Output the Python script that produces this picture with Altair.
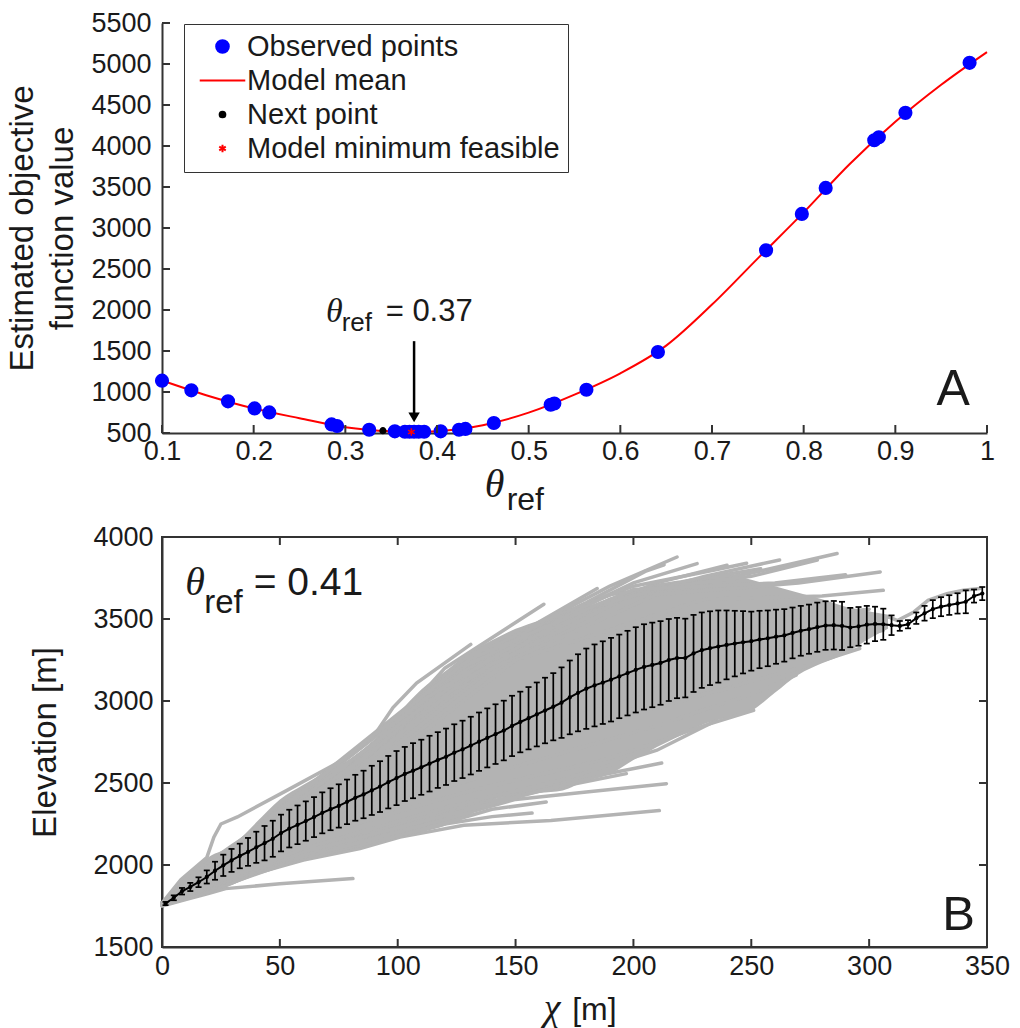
import altair as alt
import pandas as pd

# ---------------- Panel A data ----------------
obs_theta = [0.100, 0.132, 0.172, 0.201, 0.217, 0.285, 0.291, 0.326, 0.354, 0.365,
             0.370, 0.375, 0.380, 0.386, 0.404, 0.424, 0.431, 0.462, 0.524, 0.528,
             0.563, 0.641, 0.759, 0.798, 0.824, 0.877, 0.882, 0.911, 0.981]
obs_value = [1138, 1020, 886, 800, 751, 605, 585, 540, 520, 515,
             515, 515, 515, 515, 520, 540, 550, 622, 845, 860,
             1028, 1488, 2728, 3172, 3489, 4070, 4106, 4404, 5014]
next_theta = [0.341]
next_value = [528]
minf_theta = [0.372]
minf_value = [513]
mean_theta = [0.10, 0.15, 0.20, 0.25, 0.30, 0.35, 0.375, 0.40, 0.45, 0.50, 0.55, 0.60,
              0.65, 0.70, 0.75, 0.80, 0.85, 0.90, 0.95, 1.00]
mean_value = [1140, 955, 800, 680, 570, 520, 513, 522, 595, 748, 968, 1228,
              1565, 2066, 2630, 3190, 3778, 4295, 4746, 5145]
a_xticks = [0.1, 0.2, 0.3, 0.4, 0.5, 0.6, 0.7, 0.8, 0.9, 1.0]
a_yticks = [500, 1000, 1500, 2000, 2500, 3000, 3500, 4000, 4500, 5000, 5500]
series_names = ["Observed points", "Model mean", "Next point", "Model minimum feasible"]

# ---------------- Panel B data ----------------
chi = [1.5, 5.0, 8.5, 12.0, 15.5, 19.0, 22.5, 26.0, 29.5, 33.0,
       36.5, 40.0, 43.5, 47.0, 50.5, 54.0, 57.5, 61.0, 64.5, 68.0,
       71.5, 75.0, 78.5, 82.0, 85.5, 89.0, 92.5, 96.0, 99.5, 103.0,
       106.5, 110.0, 113.5, 117.0, 120.5, 124.0, 127.5, 131.0, 134.5, 138.0,
       141.5, 145.0, 148.5, 152.0, 155.5, 159.0, 162.5, 166.0, 169.5, 173.0,
       176.5, 180.0, 183.5, 187.0, 190.5, 194.0, 197.5, 201.0, 204.5, 208.0,
       211.5, 215.0, 218.5, 222.0, 225.5, 229.0, 232.5, 236.0, 239.5, 243.0,
       246.5, 250.0, 253.5, 257.0, 260.5, 264.0, 267.5, 271.0, 274.5, 278.0,
       281.5, 285.0, 288.5, 292.0, 295.5, 299.0, 302.5, 306.0, 309.5, 313.0,
       316.5, 320.0, 323.5, 327.0, 330.5, 334.0, 337.5, 341.0, 344.5, 348.0]
elev_mean = [1765, 1800, 1840, 1866, 1895, 1927, 1965, 1998, 2028, 2055,
             2080, 2108, 2133, 2160, 2195, 2222, 2245, 2268, 2292, 2318,
             2340, 2360, 2385, 2410, 2430, 2455, 2478, 2505, 2530, 2555,
             2575, 2596, 2618, 2640, 2660, 2685, 2705, 2728, 2752, 2775,
             2798, 2820, 2848, 2872, 2895, 2918, 2942, 2965, 2990, 3022,
             3050, 3075, 3095, 3112, 3130, 3150, 3170, 3190, 3208, 3220,
             3232, 3250, 3262, 3262, 3290, 3310, 3322, 3332, 3342, 3350,
             3358, 3365, 3375, 3382, 3392, 3400, 3415, 3428, 3438, 3450,
             3460, 3462, 3458, 3448, 3455, 3465, 3470, 3468, 3462, 3458,
             3468, 3505, 3535, 3560, 3575, 3585, 3595, 3605, 3640, 3655]
elev_err = [10, 15, 20, 25, 30, 40, 55, 65, 70, 75,
            85, 95, 105, 110, 112, 115, 118, 120, 122, 125,
            128, 132, 136, 140, 145, 150, 155, 160, 165, 165,
            168, 168, 170, 170, 172, 173, 175, 176, 178, 180,
            182, 182, 184, 185, 190, 195, 200, 205, 215, 225,
            235, 245, 250, 252, 255, 255, 258, 260, 260, 258,
            255, 250, 245, 240, 235, 230, 225, 220, 210, 200,
            190, 180, 175, 170, 165, 160, 155, 152, 150, 150,
            148, 148, 147, 120, 118, 115, 105, 95, 60, 30,
            25, 35, 45, 55, 58, 60, 62, 70, 40, 40]
core_chi = [0, 5, 10, 20, 30, 40, 50, 60, 70, 80, 90, 100, 110, 120, 130, 140, 150,
            160, 170, 180, 190, 200, 210, 220, 230, 240, 250, 260, 270, 280, 290, 300, 308]
core_low = [1748, 1765, 1785, 1830, 1880, 1950, 2000, 2035, 2060, 2090, 2125, 2165, 2200,
            2240, 2300, 2395, 2420, 2440, 2455, 2515, 2555, 2640, 2720, 2790, 2860, 2900,
            2940, 3050, 3160, 3230, 3290, 3380, 3440]
core_high = [1768, 1860, 1935, 2050, 2120, 2260, 2400, 2490, 2570, 2650, 2760, 2920, 3070,
             3180, 3290, 3370, 3440, 3490, 3530, 3575, 3630, 3680, 3715, 3737, 3760, 3775,
             3740, 3700, 3660, 3620, 3575, 3545, 3515]
profiles = [
    [(0, 1750), (10, 1790), (20, 1828), (27, 1856), (50, 1885), (81, 1917)],
    [(0, 1752), (20, 1835), (40, 1950), (60, 2030), (84, 2100), (101, 2170), (128, 2242), (165, 2272), (211, 2332)],
    [(0, 1755), (30, 1895), (60, 2045), (90, 2140), (120, 2250), (140, 2295), (157, 2317)],
    [(0, 1757), (40, 1960), (80, 2110), (110, 2215), (140, 2340), (163, 2384)],
    [(0, 1760), (50, 2010), (100, 2200), (130, 2320), (150, 2400), (180, 2445), (214, 2496)],
    [(0, 1760), (50, 2020), (100, 2230), (140, 2390), (170, 2480), (197, 2557)],
    [(0, 1762), (60, 2080), (120, 2300), (160, 2450), (190, 2560), (212, 2622)],
    [(0, 1762), (60, 2100), (120, 2350), (170, 2520), (210, 2700), (235, 2880)],
    [(0, 1764), (70, 2200), (130, 2450), (190, 2650), (230, 2850), (251, 2943)],
    [(0, 1765), (80, 2300), (150, 2600), (210, 2850), (250, 3040), (269, 3157)],
    [(0, 1766), (90, 2400), (160, 2750), (220, 3000), (270, 3200), (296, 3320)],
    [(0, 1767), (100, 2500), (180, 2950), (240, 3200), (290, 3380), (306, 3431)],
    [(0, 1768), (100, 2600), (170, 3050), (230, 3300), (280, 3450), (308, 3510)],
    [(0, 1768), (60, 2250), (130, 2800), (200, 3250), (260, 3500), (300, 3560)],
    [(0, 1768), (8, 1910), (19, 2045), (22, 2170), (25, 2250), (32, 2293), (53, 2455), (78, 2650),
     (90, 2790), (98, 2960), (108, 3110), (131, 3345)],
    [(0, 1768), (20, 2020), (30, 2120), (60, 2400), (90, 2720), (120, 3200), (162, 3590)],
    [(0, 1768), (30, 2100), (70, 2500), (110, 3000), (150, 3400), (184.6, 3686)],
    [(0, 1768), (40, 2200), (100, 2850), (150, 3400), (190, 3700), (218.5, 3878)],
    [(0, 1768), (40, 2180), (100, 2800), (160, 3450), (200, 3720), (227, 3838)],
    [(0, 1768), (50, 2250), (110, 2950), (170, 3500), (210, 3720), (239.7, 3828)],
    [(0, 1768), (50, 2230), (120, 3050), (190, 3620), (230, 3750), (254, 3807)],
    [(0, 1768), (60, 2300), (130, 3150), (200, 3650), (250, 3780), (286.4, 3899)],
    [(0, 1768), (60, 2280), (140, 3200), (210, 3650), (270, 3720), (304.7, 3787)],
    [(0, 1768), (70, 2350), (150, 3250), (230, 3620), (280, 3640), (306, 3675)],
    [(0, 1768), (80, 2400), (160, 3100), (240, 3450), (290, 3560), (308, 3515), (312, 3490),
     (319, 3543), (325, 3614), (333, 3655), (340, 3675), (347, 3686)],
    [(0, 1768), (90, 2700), (140, 3330), (180, 3600), (205, 3790), (213, 3830)],
    [(0, 1768), (100, 2850), (160, 3480), (200, 3700), (235, 3800), (248, 3840)],
    [(0, 1768), (110, 3000), (170, 3520), (230, 3760), (262, 3860)],
    [(0, 1768), (120, 3150), (190, 3650), (250, 3760), (278, 3860)],
    [(0, 1768), (130, 3250), (200, 3680), (260, 3720), (290, 3770)],
    [(0, 1768), (100, 2550), (170, 2990), (230, 3250), (262, 3330)],
    [(0, 1768), (90, 2350), (150, 2700), (200, 2950), (242, 3080)],
]
b_xticks = [0, 50, 100, 150, 200, 250, 300, 350]
b_yticks = [1500, 2000, 2500, 3000, 3500, 4000]

# ---------------- styling ----------------
SANS = "Liberation Sans"
SERIF = "Liberation Serif"
AX = "#333333"
TXT = "#1a1a1a"
GRAY = "#b3b3b3"
W, H = 825, 410
SYM = 160
# custom symbol paths (unit = sqrt(size)/2 px)
LINE_SYM = "M-3.6,0L3.6,0"
SMALL_DOT = "M-0.45,0A0.45,0.45 0 1,0 0.45,0A0.45,0.45 0 1,0 -0.45,0Z"
ASTERISK = "M0,-0.6L0,0.6M-0.52,-0.3L0.52,0.3M-0.52,0.3L0.52,-0.3"

# ---------------- Panel A ----------------
sxA = alt.Scale(domain=[0.1, 1.0], nice=False, zero=False)
syA = alt.Scale(domain=[500, 5500], nice=False, zero=False)
axAx = alt.Axis(title=None, values=a_xticks, format=".1~f", labelPadding=5)
axAy = alt.Axis(title=["Estimated objective", "function value"], values=a_yticks, format="d",
                labelPadding=11, titlePadding=11, titleLineHeight=40, titleFontSize=33)


def XA(f):
    return alt.X(f + ":Q", scale=sxA, axis=axAx)


def YA(f):
    return alt.Y(f + ":Q", scale=syA, axis=axAy)


fill_scale = alt.Scale(domain=series_names, range=["#0000ff", "transparent", "#000000", "transparent"])
stroke_scale = alt.Scale(domain=series_names, range=["#0000ff", "#ff0000", "#000000", "#ff0000"])
shape_scale = alt.Scale(domain=series_names, range=["circle", LINE_SYM, SMALL_DOT, ASTERISK])
leg = alt.Legend(title=None, orient="none", legendX=22, legendY=1, direction="vertical",
                 fillColor="white", strokeColor=AX, padding=8, labelFontSize=29, labelFont=SANS,
                 labelColor=TXT, rowPadding=4, labelOffset=10, symbolOffset=16, symbolSize=SYM,
                 symbolStrokeWidth=2, symbolOpacity=1, labelLimit=600)

df_mean = pd.DataFrame({"theta": mean_theta, "value": mean_value, "series": "Model mean"})
df_pts = pd.concat([
    pd.DataFrame({"theta": obs_theta, "value": obs_value, "series": "Observed points"}),
    pd.DataFrame({"theta": minf_theta, "value": minf_value, "series": "Model minimum feasible"}),
    pd.DataFrame({"theta": next_theta, "value": next_value, "series": "Next point"}),
], ignore_index=True)

line_a = alt.Chart(df_mean).mark_line(strokeWidth=2, interpolate="monotone").encode(
    x=XA("theta"), y=YA("value"),
    stroke=alt.Stroke("series:N", scale=stroke_scale, legend=leg))
pts_a = alt.Chart(df_pts).mark_point(filled=True, opacity=1, strokeWidth=1.5, size=SYM).encode(
    x=XA("theta"), y=YA("value"),
    fill=alt.Fill("series:N", scale=fill_scale, legend=leg),
    stroke=alt.Stroke("series:N", scale=stroke_scale, legend=leg),
    shape=alt.Shape("series:N", scale=shape_scale, legend=leg))

df_arrow = pd.DataFrame({"theta": [0.375], "top": [1620], "bottom": [720], "tip": [690]})
arrow_shaft = alt.Chart(df_arrow).mark_rule(color="black", strokeWidth=2.5).encode(
    x=XA("theta"), y=YA("top"), y2="bottom:Q")
arrow_head = alt.Chart(df_arrow).mark_point(shape="triangle-down", filled=True, opacity=1,
                                             color="black", size=130).encode(x=XA("theta"), y=YA("tip"))


def text_a(x, y, s, size, font=SANS, style="normal"):
    return alt.Chart(pd.DataFrame({"x": [x], "y": [y], "t": [s]})).mark_text(
        align="left", baseline="alphabetic", font=font, fontSize=size, fontStyle=style,
        color=TXT).encode(x=XA("x"), y=YA("y"), text="t:N")


ann_a = [
    text_a(0.279, 1858, "\u03b8", 34, SERIF, "italic"),
    text_a(0.296, 1745, "ref", 26),
    text_a(0.344, 1870, "= 0.37", 31),
    text_a(0.945, 845, "A", 50),
    text_a(0.452, -277, "\u03b8", 40, SERIF, "italic"),
    text_a(0.476, -436, "ref", 32),
]

ticks_ax = alt.Chart(pd.DataFrame({"theta": a_xticks})).mark_rule(color=AX, strokeWidth=2).encode(
    x=XA("theta"), y=alt.value(H), y2=alt.value(H - 8))
ticks_ay = alt.Chart(pd.DataFrame({"value": a_yticks})).mark_rule(color=AX, strokeWidth=2).encode(
    y=YA("value"), x=alt.value(0), x2=alt.value(8))

panel_a = alt.layer(line_a, pts_a, arrow_shaft, arrow_head, ticks_ax, ticks_ay, *ann_a).properties(
    width=W, height=H, view=alt.ViewBackground(stroke="transparent"))

# ---------------- Panel B ----------------
sxB = alt.Scale(domain=[0, 350], nice=False, zero=False)
syB = alt.Scale(domain=[1500, 4000], nice=False, zero=False)
axBx = alt.Axis(title=None, values=b_xticks, format="d", labelPadding=6)
axBy = alt.Axis(title="Elevation [m]", values=b_yticks, format="d", labelPadding=9,
                titlePadding=30, titleFontSize=33)


def XB(f):
    return alt.X(f + ":Q", scale=sxB, axis=axBx)


def YB(f):
    return alt.Y(f + ":Q", scale=syB, axis=axBy)


df_core = pd.DataFrame({"chi": core_chi, "lo": core_low, "hi": core_high})
rows = []
for i, prof in enumerate(profiles):
    for c, e in prof:
        rows.append({"id": i, "chi": c, "elev": e})
df_prof = pd.DataFrame(rows)
df_b = pd.DataFrame({"chi": chi, "elev": elev_mean, "err": elev_err})
df_b["lo"] = df_b["elev"] - df_b["err"]
df_b["hi"] = df_b["elev"] + df_b["err"]

core = alt.Chart(df_core).mark_area(color=GRAY, opacity=1, interpolate="monotone").encode(
    x=XB("chi"), y=YB("lo"), y2="hi:Q")
gray_lines = alt.Chart(df_prof).mark_line(color=GRAY, strokeWidth=3.5, strokeCap="round").encode(
    x=XB("chi"), y=YB("elev"), detail="id:N")
bars = alt.Chart(df_b).mark_rule(color="black", strokeWidth=1.7).encode(
    x=XB("chi"), y=YB("lo"), y2="hi:Q")
cap_lo = alt.Chart(df_b).mark_rule(color="black", strokeWidth=1.7, xOffset=-3, x2Offset=3).encode(
    x=XB("chi"), x2="chi:Q", y=YB("lo"))
cap_hi = alt.Chart(df_b).mark_rule(color="black", strokeWidth=1.7, xOffset=-3, x2Offset=3).encode(
    x=XB("chi"), x2="chi:Q", y=YB("hi"))
mean_line = alt.Chart(df_b).mark_line(color="black", strokeWidth=2).encode(x=XB("chi"), y=YB("elev"))
mean_dots = alt.Chart(df_b).mark_circle(color="black", size=18, opacity=1).encode(x=XB("chi"), y=YB("elev"))


def text_b(x, y, s, size, font=SANS, style="normal"):
    return alt.Chart(pd.DataFrame({"x": [x], "y": [y], "t": [s]})).mark_text(
        align="left", baseline="alphabetic", font=font, fontSize=size, fontStyle=style,
        color=TXT).encode(x=XB("x"), y=YB("y"), text="t:N")


ann_b = [
    text_b(9.9, 3645, "\u03b8", 40, SERIF, "italic"),
    text_b(17.9, 3535, "ref", 33),
    text_b(38.9, 3645, "= 0.41", 39),
    text_b(331, 1602, "B", 49),
    text_b(162, 1053, "\u03c7", 38, SERIF, "italic"),
    text_b(174, 1053, "[m]", 32),
]

tb_bottom = alt.Chart(pd.DataFrame({"chi": b_xticks})).mark_rule(color=AX, strokeWidth=2).encode(
    x=XB("chi"), y=alt.value(H), y2=alt.value(H - 8))
tb_top = alt.Chart(pd.DataFrame({"chi": b_xticks})).mark_rule(color=AX, strokeWidth=2).encode(
    x=XB("chi"), y=alt.value(0), y2=alt.value(8))
tb_left = alt.Chart(pd.DataFrame({"elev": b_yticks})).mark_rule(color=AX, strokeWidth=2).encode(
    y=YB("elev"), x=alt.value(0), x2=alt.value(8))
tb_right = alt.Chart(pd.DataFrame({"elev": b_yticks})).mark_rule(color=AX, strokeWidth=2).encode(
    y=YB("elev"), x=alt.value(W), x2=alt.value(W - 8))

panel_b = alt.layer(core, gray_lines, bars, cap_lo, cap_hi, mean_line, mean_dots,
                    tb_bottom, tb_top, tb_left, tb_right, *ann_b).properties(
    width=W, height=H, view=alt.ViewBackground(stroke=AX, strokeWidth=2))

chart = alt.vconcat(panel_a, panel_b, spacing=104, bounds="flush").properties(
    padding={"left": 6, "top": 8, "right": 5, "bottom": 0}, background="white"
).configure(font=SANS).configure_axis(
    grid=False, ticks=False, domainColor=AX, domainWidth=2, labelFont=SANS, labelFontSize=27,
    labelColor=TXT, labelFlush=False, labelOverlap=False, titleFont=SANS, titleFontSize=31,
    titleFontWeight="normal", titleColor=TXT
)

chart.save("out.html", embed_options={"renderer": "svg", "actions": False})
